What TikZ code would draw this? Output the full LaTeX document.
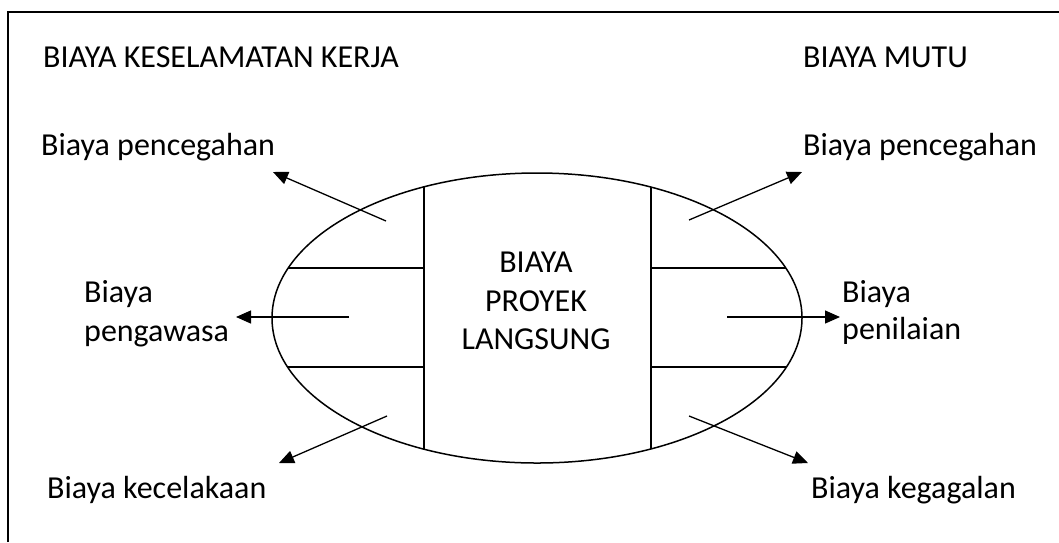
\documentclass[tikz,border=0pt]{standalone}
\usepackage{fontspec}
\setmainfont{Carlito}
\usetikzlibrary{arrows.meta,shapes.geometric}
\begin{document}
\begin{tikzpicture}[x=1pt,y=-1pt,
  lbl/.style={font=\fontsize{32}{38.5}\selectfont, inner sep=0pt, anchor=base west},
  ctr/.style={font=\fontsize{32}{38.5}\selectfont, inner sep=0pt, anchor=base},
  ln/.style={line width=1.2pt},
  arr/.style={line width=1.3pt,-{Triangle[length=15pt,width=13pt]}}]
\useasboundingbox (0,0) rectangle (1059,542);
% frame (cropped at right and bottom)
\draw[line width=1.5pt] (8,542) -- (8,12) -- (1059,12);

% titles
\node[lbl] (tkk) at (43,67) {BIAYA KESELAMATAN KERJA};
\node[lbl] (tmutu) at (803,67) {BIAYA MUTU};

% ellipse
\node[ellipse, draw, line width=1.5pt, minimum width=530pt, minimum height=290pt, inner sep=0pt] (E) at (537,318) {};

% center text
\node[ctr] (c1) at (536,272) {BIAYA};
\node[ctr] (c2) at (536,311) {PROYEK};
\node[ctr] (c3) at (536,349) {LANGSUNG};

% inner lines
\coordinate (vlt) at (424,187);
\coordinate (vlb) at (424,449);
\coordinate (vrt) at (651,187);
\coordinate (vrb) at (651,449);
\draw[ln] (vlt) -- (vlb);
\draw[ln] (vrt) -- (vrb);
\coordinate (h1l) at (288,268);
\coordinate (h1la) at (424,268);
\coordinate (h1r) at (786,268);
\coordinate (h1ra) at (651,268);
\coordinate (h2l) at (288,367);
\coordinate (h2la) at (424,367);
\coordinate (h2r) at (786,367);
\coordinate (h2ra) at (651,367);
\draw[ln] (h1l) -- (h1la);
\draw[ln] (h1ra) -- (h1r);
\draw[ln] (h2l) -- (h2la);
\draw[ln] (h2ra) -- (h2r);

% side labels
\node[lbl] (lp) at (41,155) {Biaya pencegahan};
\node[lbl] (rp) at (803,155) {Biaya pencegahan};
\begin{scope}
\clip (60,270) rectangle (280,347);
\node[lbl] (lw1) at (84,302) {Biaya};
\node[lbl] (lw2) at (84,341) {pengawasa};
\end{scope}
\begin{scope}
\clip (830,270) rectangle (1000,343);
\node[lbl] (rn1) at (842,302) {Biaya};
\node[lbl] (rn2) at (842,339) {penilaian};
\end{scope}
\node[lbl] (lk) at (47,498) {Biaya kecelakaan};
\node[lbl] (rk) at (811,498) {Biaya kegagalan};

% arrows
\coordinate (a1s) at (386,221);
\coordinate (a1e) at (273,172);
\coordinate (a2s) at (349,317);
\coordinate (a2e) at (236,317);
\coordinate (a3s) at (387,416);
\coordinate (a3e) at (279,463);
\coordinate (a4s) at (689,220);
\coordinate (a4e) at (802,172);
\coordinate (a5s) at (727,317);
\coordinate (a5e) at (840,317);
\coordinate (a6s) at (689,416);
\coordinate (a6e) at (808,463);
\draw[arr] (a1s) -- (a1e);
\draw[arr] (a2s) -- (a2e);
\draw[arr] (a3s) -- (a3e);
\draw[arr] (a4s) -- (a4e);
\draw[arr] (a5s) -- (a5e);
\draw[arr] (a6s) -- (a6e);
\end{tikzpicture}
\end{document}
